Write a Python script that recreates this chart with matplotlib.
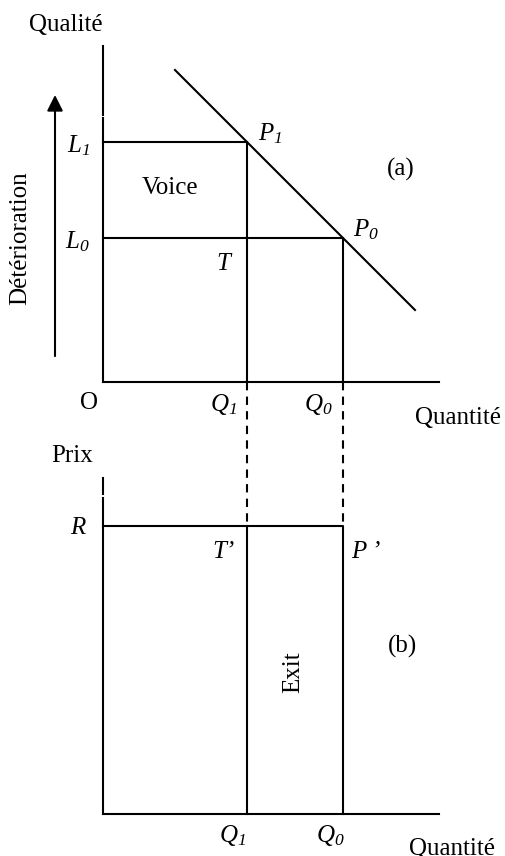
import matplotlib
matplotlib.use('Agg')
import matplotlib.pyplot as plt

plt.rcParams['font.family'] = 'Liberation Serif'
plt.rcParams['mathtext.fontset'] = 'custom'
plt.rcParams['mathtext.rm'] = 'Liberation Serif:italic'
plt.rcParams['mathtext.it'] = 'Liberation Serif:italic'

# diagram values (one unit = one grid step)
Q1, Q0 = 3.0, 5.0          # quantities
L1, L0 = 5.0, 3.0          # quality levels
R = 6.0                    # price
demand_x = [1.5, 6.5]      # demand line, x + y = 8
demand_y = [6.5, 1.5]
axis_len = 7.0
low = -9.0                 # origin of panel (b)

fs = 18
lw = 1.5

fig = plt.figure(figsize=(5.05, 8.56), dpi=100)
ax = fig.add_axes([0, 0, 1, 1])
ax.set_xlim(-103 / 48, 402 / 48)
ax.set_ylim(-474 / 48, 382 / 48)
ax.axis('off')

# ---- panel (a)
ax.plot([0, axis_len], [0, 0], 'k', lw=lw)
ax.plot([0, 0], [0, 5.5], 'k', lw=lw)
ax.plot([0, 0], [5.57, axis_len], 'k', lw=lw)
ax.plot(demand_x, demand_y, 'k', lw=lw)
ax.plot([0, Q1, Q1], [L1, L1, 0], 'k', lw=lw)
ax.plot([0, Q0, Q0], [L0, L0, 0], 'k', lw=lw)

# arrow
ax.annotate('', xy=(-1.0, 5.98), xytext=(-1.0, 0.54),
            arrowprops=dict(arrowstyle='-|>', color='k', lw=lw,
                            mutation_scale=24, shrinkA=0, shrinkB=0))

# dashed links between panels
for q in [Q1, Q0]:
    ax.plot([q, q], [0, low + R], 'k--', lw=lw, dashes=(4, 3))

# ---- panel (b)
ax.plot([0, axis_len], [low, low], 'k', lw=lw)
ax.plot([0, 0], [low, low + 6.58], 'k', lw=lw)
ax.plot([0, 0], [low + 6.67, low + axis_len], 'k', lw=lw)
ax.plot([0, Q0, Q0], [low + R, low + R, low], 'k', lw=lw)
ax.plot([Q1, Q1], [low + R, low], 'k', lw=lw)

# ---- labels
ax.text(-0.77, 7.44, 'Qualité', fontsize=fs, ha='center', va='center')
ax.text(-1.73, 3.0, 'Détérioration', fontsize=fs, rotation=90,
        ha='center', va='center')
ax.text(-0.27, L1 - 0.08, r'$L_{1}$', fontsize=fs, ha='right', va='center')
ax.text(-0.27, L0 - 0.08, r'$L_{0}$', fontsize=fs, ha='right', va='center')
ax.text(3.23, 5.17, r'$P_{1}$', fontsize=fs, ha='left', va='center')
ax.text(5.21, 3.17, r'$P_{0}$', fontsize=fs, ha='left', va='center')
ax.text(6.2, 4.42, '(a)', fontsize=fs, ha='center', va='center')
ax.text(1.4, 4.04, 'Voice', fontsize=fs, ha='center', va='center')
ax.text(2.5, 2.46, 'T', fontsize=fs, style='italic', ha='center', va='center')
ax.text(-0.29, -0.44, 'O', fontsize=fs, ha='center', va='center')
ax.text(2.79, -0.46, r'$Q_{1}$', fontsize=fs, ha='right', va='center')
ax.text(4.79, -0.46, r'$Q_{0}$', fontsize=fs, ha='right', va='center')
ax.text(7.39, -0.75, 'Quantité', fontsize=fs, ha='center', va='center')

ax.text(-0.65, -1.54, 'Prix', fontsize=fs, ha='center', va='center')
ax.text(-0.52, low + R - 0.04, 'R', fontsize=fs, style='italic', ha='center', va='center')
ax.text(2.52, -3.54, 'T’', fontsize=fs, style='italic', ha='center', va='center')
ax.text(5.48, -3.54, 'P ’', fontsize=fs, style='italic', ha='center', va='center')
ax.text(6.23, -5.5, '(b)', fontsize=fs, ha='center', va='center')
ax.text(3.96, -6.04, 'Exit', fontsize=fs, rotation=90, ha='center', va='center')
ax.text(2.7, -9.44, r'$Q_{1}$', fontsize=fs, ha='center', va='center')
ax.text(4.73, -9.44, r'$Q_{0}$', fontsize=fs, ha='center', va='center')
ax.text(7.27, -9.72, 'Quantité', fontsize=fs, ha='center', va='center')

fig.savefig('out.png', dpi=100)
